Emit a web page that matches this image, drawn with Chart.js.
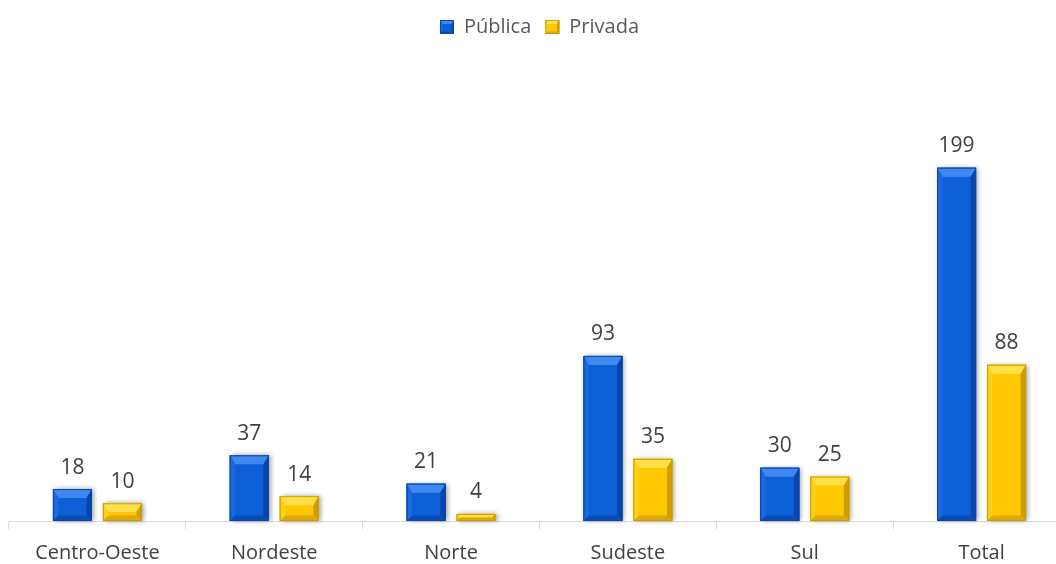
<!DOCTYPE html>
<html>
<head>
<meta charset="utf-8">
<script src="https://cdn.jsdelivr.net/npm/chart.js@4"></script>
<style>
  html, body { margin: 0; padding: 0; background: #fff; overflow: hidden; }
  #wrap { width: 1056px; height: 564px; overflow: hidden; }
</style>
</head>
<body>
<div id="wrap"><canvas id="regiaoChart" width="1084" height="577"></canvas></div>
<script>
// Dados por região
const regioes = ['Centro-Oeste', 'Nordeste', 'Norte', 'Sudeste', 'Sul', 'Total'];
const publica = [18, 37, 21, 93, 30, 199];
const privada = [10, 14, 4, 35, 25, 88];

// Cores das barras: base, topo, lado esquerdo, lado direito, fundo
const azul = { base: '#0D5FD8', top: '#3F88EF', left: '#1A69DE', right: '#0845AA', bottom: '#0A4CB6' };
const amarelo = { base: '#FFC800', top: '#FFE04A', left: '#FFD01A', right: '#CC9C00', bottom: '#DDA800' };
const paletas = [azul, amarelo];

function facet(ctx, pts, color) {
    ctx.fillStyle = color;
    ctx.beginPath();
    ctx.moveTo(pts[0][0], pts[0][1]);
    for (let k = 1; k < pts.length; k++) ctx.lineTo(pts[k][0], pts[k][1]);
    ctx.closePath();
    ctx.fill();
}

// Desenha o relevo (chanfro) sobre um retângulo
function bevel(ctx, x0, y0, x1, y1, c, tam) {
    const w = x1 - x0, h = y1 - y0;
    const bt = Math.max(1, Math.min(tam, w / 2, h / 2));
    const bs = Math.max(1, Math.min(tam * 0.6, w / 2, h / 2));
    ctx.save();
    ctx.fillStyle = c.base;
    ctx.fillRect(x0, y0, w, h);
    facet(ctx, [[x0, y0], [x1, y0], [x1 - bs, y0 + bt], [x0 + bs, y0 + bt]], c.top);
    facet(ctx, [[x0, y0], [x0 + bs, y0 + bt], [x0 + bs, y1 - bs], [x0, y1]], c.left);
    facet(ctx, [[x1, y0], [x1, y1], [x1 - bs, y1 - bs], [x1 - bs, y0 + bt]], c.right);
    facet(ctx, [[x0, y1], [x1, y1], [x1 - bs, y1 - bs], [x0 + bs, y1 - bs]], c.bottom);
    // contorno escuro fino
    ctx.strokeStyle = c.right;
    ctx.lineWidth = 1;
    ctx.strokeRect(x0 + 0.5, y0 + 0.5, w - 1, h - 1);
    ctx.restore();
}

const relevoPlugin = {
    id: 'relevo',
    afterDatasetsDraw(chart) {
        const ctx = chart.ctx;
        chart.data.datasets.forEach((ds, i) => {
            const meta = chart.getDatasetMeta(i);
            meta.data.forEach((bar, j) => {
                const x0 = bar.x - bar.width / 2, x1 = bar.x + bar.width / 2;
                // sombra leve
                ctx.save();
                ctx.shadowColor = 'rgba(0,0,0,0.4)';
                ctx.shadowBlur = 5;
                ctx.shadowOffsetX = 2;
                ctx.shadowOffsetY = 0;
                ctx.fillStyle = paletas[i].base;
                ctx.fillRect(x0, bar.y, bar.width, bar.base - bar.y);
                ctx.restore();
                bevel(ctx, x0, bar.y, x1, bar.base, paletas[i], 9);
                // rótulo de valor
                ctx.save();
                ctx.fillStyle = '#404040';
                ctx.font = '21px "Open Sans", sans-serif';
                ctx.textAlign = 'center';
                ctx.textBaseline = 'bottom';
                ctx.fillText(ds.data[j], bar.x, bar.y - 11);
                ctx.restore();
            });
        });
        // caixinhas da legenda com relevo
        const lg = chart.legend;
        if (lg && lg.legendHitBoxes) {
            lg.legendHitBoxes.forEach((hb, i) => {
                const s = 14;
                const y = hb.top + (hb.height - s) / 2;
                bevel(ctx, hb.left, y, hb.left + s, y + s, paletas[i], 4);
            });
        }
    }
};

new Chart(document.getElementById('regiaoChart'), {
    type: 'bar',
    data: {
        labels: regioes,
        datasets: [
            { label: 'Pública', data: publica, backgroundColor: azul.base },
            { label: 'Privada', data: privada, backgroundColor: amarelo.base }
        ]
    },
    options: {
        responsive: false,
        animation: false,
        categoryPercentage: 0.565,
        barPercentage: 0.78,
        layout: { padding: { left: 9, right: 14, top: 3, bottom: 0 } },
        plugins: {
            legend: {
                position: 'top',
                labels: {
                    boxWidth: 14,
                    boxHeight: 14,
                    padding: 14,
                    color: '#595959',
                    font: { family: '"Open Sans", sans-serif', size: 20 }
                }
            },
            tooltip: { enabled: false }
        },
        scales: {
            x: {
                grid: {
                    offset: true,
                    drawOnChartArea: false,
                    drawTicks: true,
                    tickLength: 8,
                    color: '#d9d9d9'
                },
                border: { color: '#d9d9d9' },
                ticks: {
                    color: '#404040',
                    padding: 12,
                    font: { family: '"Open Sans", sans-serif', size: 20 }
                }
            },
            y: {
                display: false,
                min: 0,
                max: 267
            }
        }
    },
    plugins: [relevoPlugin]
});
</script>
</body>
</html>
